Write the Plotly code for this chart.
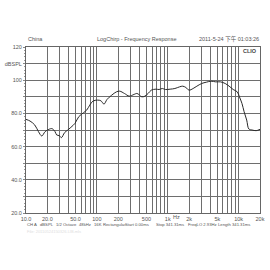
import math
import plotly.graph_objects as go

freq_hz = [10, 11.4, 13.3, 15.0, 16.7, 18.6, 21.0, 23.3, 25.7, 27.1, 29.5, 31.6, 35.0, 38.9, 43.0,
           49.1, 55.5, 64.7, 71.8, 79.4, 87.9, 102, 114, 126, 139, 162, 189, 210, 245, 286,
           333, 369, 430, 476, 528, 585, 681, 754, 837, 926, 1080, 1259, 1468, 1625, 1803,
           1995, 2277, 2575, 3000, 3500, 4080, 4760, 5540, 6470, 7540, 8370, 9550, 10250,
           11130, 11940, 12980, 13930, 15450, 17650, 20000]
spl_db = [76.4, 75.4, 73.0, 69.0, 66.4, 69.0, 70.4, 70.8, 69.0, 67.0, 66.6, 65.4, 68.4, 70.0, 71.6,
          74.0, 78.0, 80.4, 82.0, 85.0, 87.4, 88.0, 87.6, 85.6, 88.4, 91.0, 93.0, 93.4, 92.0, 90.4,
          91.4, 92.0, 90.0, 90.4, 92.0, 94.0, 94.6, 94.4, 95.0, 94.4, 94.6, 95.0, 96.0, 96.4, 95.6,
          94.0, 95.0, 96.4, 98.0, 98.8, 99.4, 99.0, 99.0, 98.0, 96.0, 94.4, 93.0, 90.0,
          86.0, 81.0, 76.0, 70.6, 70.0, 69.6, 70.4]

x_tickvals = [10, 20, 30, 40, 50, 60, 70, 80, 90, 100, 200, 300, 400, 500, 600, 700, 800, 900,
              1000, 2000, 3000, 4000, 5000, 6000, 7000, 8000, 9000, 10000, 20000]
x_ticktext = ["10.0", "20.0", "", "", "50.0", "", "", "", "", "100", "200", "", "", "500", "", "", "", "",
              "1k", "2k", "", "", "5k", "", "", "", "", "10k", "20k"]
y_tickvals = [20, 30, 40, 50, 60, 70, 80, 90, 100, 110, 120]
y_ticktext = ["20.0", "", "40.0", "", "60.0", "", "80.0", "", "100", "dBSPL", "120"]

header_left = "China"
header_title = "LogChirp - Frequency Response"
header_right = "2011-5-24 下午 01:03:26"
info_fields = ["CH A", "dBSPL", "1/2 Octave", "48kHz", "16K", "Rectangular",
               "Start 0.00ms", "Stop 341.31ms", "FreqLO 2.93Hz", "Length 341.31ms"]
info_px = [16, 30, 47, 71, 87, 97, 120, 153, 187, 218]

L, R, T, B = 17.5, 265.0, 46.7, 213.5
W, H = 270, 270

def px_x(px):
    return (px - L) / (R - L)

def px_y(py):
    return (B - py) / (B - T)

fig = go.Figure()
fig.add_trace(go.Scatter(x=freq_hz, y=spl_db, mode="lines",
                         line=dict(color="#2a2a2a", width=1), line_shape="spline",
                         hoverinfo="skip", showlegend=False))

font = "Liberation Sans, Arial, sans-serif"
grid = "#6e6e6e"
fig.update_xaxes(type="log", range=[1, math.log10(20000)], tickvals=x_tickvals, ticktext=x_ticktext,
                 showgrid=True, gridcolor=grid, gridwidth=1, showline=True, linecolor="#666666",
                 linewidth=1, mirror=True, ticks="", tickfont=dict(size=5.5, color="#555555", family=font),
                 zeroline=False, fixedrange=True)
fig.update_yaxes(range=[20, 120], tickvals=y_tickvals, ticktext=y_ticktext,
                 showgrid=True, gridcolor=grid, gridwidth=1, showline=True, linecolor="#666666",
                 linewidth=1, mirror=True, ticks="outside", ticklen=2, tickcolor="#888888",
                 minor=dict(dtick=2, ticks="outside", ticklen=1.5, tickcolor="#999999", showgrid=False),
                 tickfont=dict(size=5.5, color="#555555", family=font), zeroline=False, fixedrange=True)

ann = []
tf = dict(size=5.5, color="#555555", family=font)
ann.append(dict(x=px_x(18), y=px_y(39), xref="paper", yref="paper", text=header_left,
                showarrow=False, xanchor="left", yanchor="middle", font=tf))
ann.append(dict(x=px_x(135), y=px_y(39), xref="paper", yref="paper", text=header_title,
                showarrow=False, xanchor="center", yanchor="middle", font=tf))
ann.append(dict(x=px_x(266), y=px_y(39), xref="paper", yref="paper", text=header_right,
                showarrow=False, xanchor="right", yanchor="middle",
                font=dict(size=5.5, color="#555555", family="Liberation Sans, Noto Sans CJK SC, sans-serif")))
ann.append(dict(x=px_x(264), y=px_y(50.5), xref="paper", yref="paper", text="<b>CLIO</b>",
                showarrow=False, xanchor="right", yanchor="middle",
                font=dict(size=5.5, color="#444444", family=font)))
ann.append(dict(x=px_x(176.7), y=px_y(217.5), xref="paper", yref="paper", text="Hz",
                showarrow=False, xanchor="center", yanchor="middle", font=tf))
for t, p in zip(info_fields, info_px):
    ann.append(dict(x=px_x(p), y=px_y(225), xref="paper", yref="paper", text=t,
                    showarrow=False, xanchor="left", yanchor="middle",
                    font=dict(size=4.2, color="#555555", family=font)))
ann.append(dict(x=px_x(16), y=px_y(232.5), xref="paper", yref="paper", text="File: 20110524150326.LIB.mls",
                showarrow=False, xanchor="left", yanchor="middle",
                font=dict(size=4, color="#dddddd", family=font)))

fig.update_layout(width=W, height=H, margin=dict(l=L, r=W - R, t=T, b=H - B),
                  paper_bgcolor="white", plot_bgcolor="white", annotations=ann, showlegend=False)

fig.write_html("out.html", config={"displayModeBar": False})
